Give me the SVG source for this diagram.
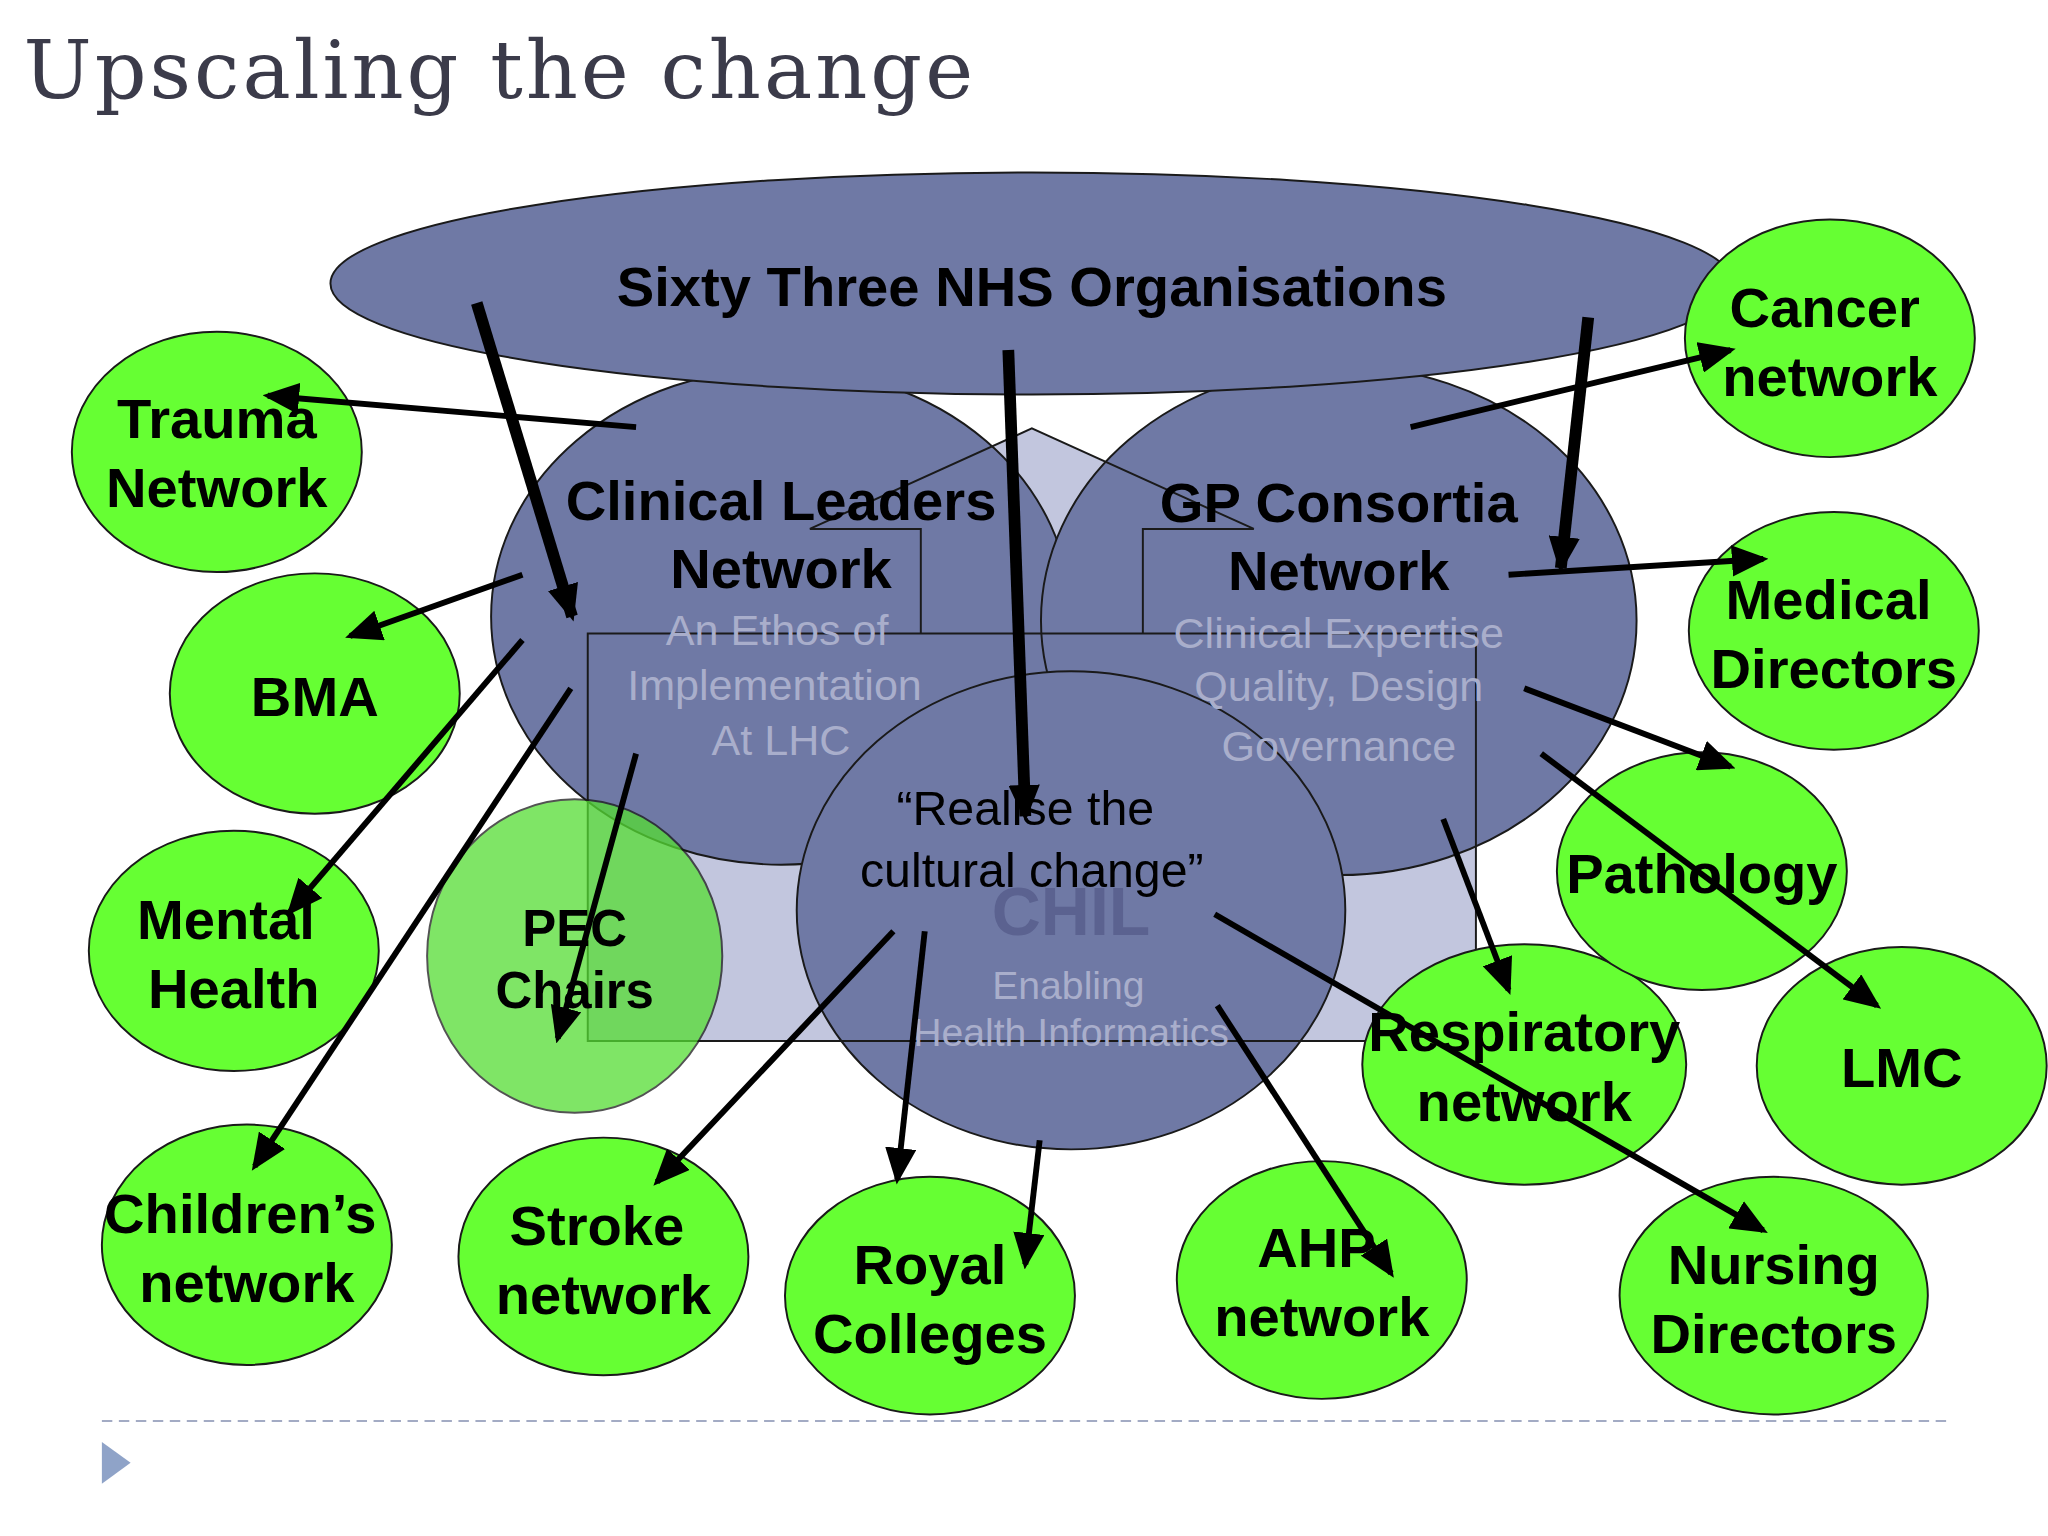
<svg xmlns="http://www.w3.org/2000/svg" width="2048" height="1536" viewBox="0 0 2048 1536">
<style>
.g{fill:#66ff33;stroke:#1a1a1a;stroke-width:1.5}
.b{fill:#6f79a5;stroke:#1a1a1a;stroke-width:1.5}
.t{font-family:"Liberation Sans",Arial,sans-serif;font-weight:bold;font-size:43px;fill:#000;text-anchor:middle}
.s{font-family:"Liberation Sans",Arial,sans-serif;font-size:33px;fill:#a9aecb;text-anchor:middle}
.c line{stroke:#000;stroke-width:4.5;marker-end:url(#ah)}
.c line.k{stroke-width:9}
</style>
<defs>
<marker id="ah" markerUnits="userSpaceOnUse" markerWidth="28" markerHeight="24" refX="24" refY="12" orient="auto"><path d="M0,0 L28,12 L0,24 Z" fill="#000"/></marker>
</defs>
<rect width="2048" height="1536" fill="#fff"/>
<g transform="scale(1.30612)">
<text x="18" y="75" font-family="DejaVu Serif,serif" font-size="62" fill="#3b3b4a" textLength="727">Upscaling the change</text>
<polygon points="450,485 790,328 1130,485 1130,797 450,797" fill="#c2c6de"/>
<g id="clinical"><ellipse class="b" cx="598" cy="472" rx="222" ry="190"/></g>
<g id="gp"><ellipse class="b" cx="1025" cy="475" rx="228" ry="195"/></g>
<g id="chil"><ellipse class="b" cx="820" cy="697" rx="210" ry="183"/></g>
<path d="M450,485 H1130 V797 H450 Z M620,405 L790,328 L960,405 M620,405 H705 V485 M875,485 V405 H960" fill="none" stroke="#1a1a1a" stroke-width="1.5"/>
<g id="nhs"><ellipse class="b" cx="790" cy="217" rx="537" ry="85"/><text class="t" x="790" y="234">Sixty Three NHS Organisations</text></g>
<text class="t" x="598" y="398">Clinical Leaders</text><text class="t" x="598" y="450">Network</text>
<text class="s" x="595" y="494">An Ethos of</text><text class="s" x="593" y="536">Implementation</text><text class="s" x="598" y="578">At LHC</text>
<text class="t" x="1025" y="400">GP Consortia</text><text class="t" x="1025" y="452">Network</text>
<text class="s" x="1025" y="496">Clinical Expertise</text><text class="s" x="1025" y="537">Quality, Design</text><text class="s" x="1025" y="583">Governance</text>
<text x="820" y="716" font-family="Liberation Sans,Arial,sans-serif" font-weight="bold" font-size="52" fill="#5b6290" text-anchor="middle">CHIL</text>
<text class="s" x="818" y="765" style="font-size:30px">Enabling</text><text class="s" x="820" y="801" style="font-size:30px">Health Informatics</text>
<text x="785" y="632" font-family="Liberation Sans,Arial,sans-serif" font-size="37" fill="#000" text-anchor="middle">“Realise the</text>
<text x="790" y="679" font-family="Liberation Sans,Arial,sans-serif" font-size="37" fill="#000" text-anchor="middle">cultural change”</text>
<g id="trauma"><ellipse class="g" cx="166" cy="346" rx="111" ry="92"/><text class="t" x="166" y="335">Trauma</text><text class="t" x="166" y="388">Network</text></g>
<g id="bma"><ellipse class="g" cx="241" cy="531" rx="111" ry="92"/><text class="t" x="241" y="548">BMA</text></g>
<g id="mental"><ellipse class="g" cx="179" cy="728" rx="111" ry="92"/><text class="t" x="173" y="719">Mental</text><text class="t" x="179" y="772">Health</text></g>
<g id="children"><ellipse class="g" cx="189" cy="953" rx="111" ry="92"/><text class="t" x="184" y="944">Children’s</text><text class="t" x="189" y="997">network</text></g>
<g id="pec"><ellipse class="g" cx="440" cy="732" rx="113" ry="120" style="fill:#55dd33" opacity="0.75"/><text class="t" x="440" y="724" style="font-size:39px">PEC</text><text class="t" x="440" y="772" style="font-size:39px">Chairs</text></g>
<g id="stroke"><ellipse class="g" cx="462" cy="962" rx="111" ry="91"/><text class="t" x="457" y="953">Stroke</text><text class="t" x="462" y="1006">network</text></g>
<g id="royal"><ellipse class="g" cx="712" cy="992" rx="111" ry="91"/><text class="t" x="712" y="983">Royal</text><text class="t" x="712" y="1036">Colleges</text></g>
<g id="ahp"><ellipse class="g" cx="1012" cy="980" rx="111" ry="91"/><text class="t" x="1008" y="970">AHP</text><text class="t" x="1012" y="1023">network</text></g>
<g id="resp"><ellipse class="g" cx="1167" cy="815" rx="124" ry="92"/><text class="t" x="1167" y="805">Respiratory</text><text class="t" x="1167" y="858">network</text></g>
<g id="nursing"><ellipse class="g" cx="1358" cy="992" rx="118" ry="91"/><text class="t" x="1358" y="983">Nursing</text><text class="t" x="1358" y="1036">Directors</text></g>
<g id="lmc"><ellipse class="g" cx="1456" cy="816" rx="111" ry="91"/><text class="t" x="1456" y="832">LMC</text></g>
<g id="pathology"><ellipse class="g" cx="1303" cy="667" rx="111" ry="91"/><text class="t" x="1303" y="684">Pathology</text></g>
<g id="medical"><ellipse class="g" cx="1404" cy="483" rx="111" ry="91"/><text class="t" x="1400" y="474">Medical</text><text class="t" x="1404" y="527">Directors</text></g>
<g id="cancer"><ellipse class="g" cx="1401" cy="259" rx="111" ry="91"/><text class="t" x="1397" y="250">Cancer</text><text class="t" x="1401" y="303">network</text></g>
<g class="c">
<line class="k" x1="365" y1="232" x2="438" y2="472"/>
<line class="k" x1="772" y1="268" x2="785" y2="625"/>
<line class="k" x1="1216" y1="243" x2="1195" y2="435"/>
<line x1="487" y1="327" x2="205" y2="303"/>
<line x1="400" y1="440" x2="268" y2="487"/>
<line x1="400" y1="490" x2="222" y2="698"/>
<line x1="437" y1="527" x2="195" y2="893"/>
<line x1="487" y1="577" x2="427" y2="795"/>
<line x1="1080" y1="327" x2="1325" y2="268"/>
<line x1="1155" y1="440" x2="1350" y2="428"/>
<line x1="1167" y1="527" x2="1325" y2="587"/>
<line x1="1180" y1="577" x2="1437" y2="770"/>
<line x1="1105" y1="627" x2="1155" y2="758"/>
<line x1="930" y1="700" x2="1350" y2="942"/>
<line x1="932" y1="770" x2="1065" y2="975"/>
<line x1="796" y1="873" x2="785" y2="968"/>
<line x1="708" y1="713" x2="687" y2="903"/>
<line x1="684" y1="713" x2="503" y2="905"/>
</g>
<line x1="78" y1="1088" x2="1490" y2="1088" stroke="#a3abc4" stroke-width="1.5" stroke-dasharray="8,5"/>
<polygon points="78,1104 78,1136 100,1120" fill="#8fa3c8"/>
</g>
</svg>
